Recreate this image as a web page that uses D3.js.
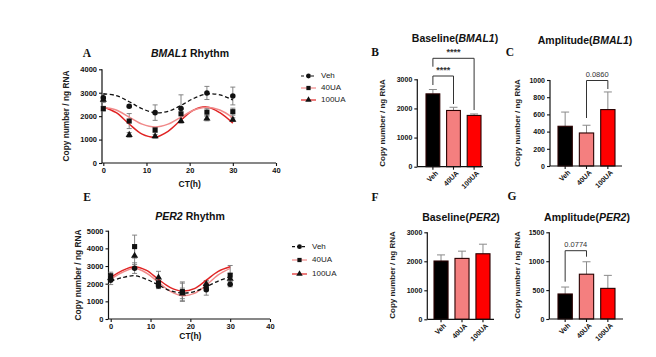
<!DOCTYPE html>
<html><head><meta charset="utf-8">
<script src="https://cdn.jsdelivr.net/npm/d3@7"></script>
<style>
html,body{margin:0;padding:0;background:#fff;}
svg{display:block;font-family:"Liberation Sans",Arial,sans-serif;}
</style></head>
<body>
<svg id="c" width="656" height="357"></svg>
<script>
// ---------- DATA ----------
const groups = ["Veh", "40UA", "100UA"];
const ctHours = [0, 6, 12, 18, 24, 30];
const fitHours = [0, 3, 6, 9, 12, 15, 18, 21, 24, 27, 30];
const xTicks = [0, 10, 20, 30, 40];

// BMAL1 rhythm (panel A)
const bmalVeh = [2780, 2420, 2150, 2330, 2990, 2860];
const bmalVehErr = [150, 60, 330, 580, 280, 380];
const bmal40 = [2320, 1790, 1410, 2100, 2170, 2190];
const bmal40Err = [100, 320, 100, 200, 150, 150];
const bmal100 = [2700, 1200, 1140, 1800, 1900, 1850];
const bmal100Err = [120, 100, 80, 100, 100, 80];
const bmalFitVeh = [2957, 2878, 2616, 2315, 2148, 2206, 2459, 2762, 2946, 2908, 2690];
const bmalFit40 = [2380, 2260, 1960, 1660, 1540, 1660, 1960, 2260, 2380, 2260, 1930];
const bmalFit100 = [2394, 2146, 1665, 1235, 1106, 1354, 1835, 2265, 2394, 2146, 1700];
const bmalYTicks = [0, 1000, 2000, 3000, 4000];

// PER2 rhythm (panel E)
const perVeh = [2200, 2880, 1870, 1530, 1650, 1970];
const perVehErr = [250, 300, 150, 500, 300, 150];
const per40 = [2450, 4100, 2050, 1550, 1850, 2480];
const per40Err = [200, 650, 300, 550, 250, 550];
const per100 = [2330, 3580, 2350, 1450, 1980, 2280];
const per100Err = [150, 500, 350, 300, 200, 300];
const perFitVeh = [2150, 2350, 2450, 2250, 1920, 1600, 1470, 1550, 1830, 2150, 2400];
const perFit40 = [2260, 2650, 2870, 2600, 2080, 1560, 1320, 1450, 1920, 2500, 2870];
const perFit100 = [2340, 2750, 2960, 2750, 2240, 1780, 1580, 1720, 2200, 2700, 2960];
const perYTicks = [0, 1000, 2000, 3000, 4000, 5000];

// Bar panels
const baseBmal = [2500, 1930, 1760];
const baseBmalErr = [150, 110, 50];
const ampBmal = [462, 384, 656];
const ampBmalErr = [165, 90, 205];
const basePer = [2010, 2100, 2260];
const basePerErr = [210, 250, 330];
const ampPer = [433, 775, 530];
const ampPerErr = [120, 215, 225];
const ticks3000 = [0, 1000, 2000, 3000];
const ticks1000 = [0, 200, 400, 600, 800, 1000];
const ticks1500 = [0, 500, 1000, 1500];

// ---------- STYLE ----------
const lineCol = {Veh: "#111", "40UA": "#f08a8a", "100UA": "#e02424"};
const barCol = {Veh: "#000", "40UA": "#f47f7f", "100UA": "#ff0000"};
const markerShape = {Veh: d3.symbolCircle, "40UA": d3.symbolSquare, "100UA": d3.symbolTriangle};
const markerSize = {Veh: 24, "40UA": 26, "100UA": 22};
const fmt = d3.format("d");

const svg = d3.select("#c");

function styleAxis(g, fs) {
  g.selectAll("path.domain").attr("stroke", "#111").attr("stroke-width", 1.2);
  g.selectAll(".tick line").attr("stroke", "#111").attr("stroke-width", 1.1);
  g.selectAll(".tick text").attr("fill", "#111").style("font-size", fs + "px").style("font-weight", "bold")
    .style("font-family", "'Liberation Sans',Arial,sans-serif");
}

function panelLetter(t, x, y) {
  svg.append("text").attr("x", x).attr("y", y).attr("text-anchor", "middle").attr("dominant-baseline", "middle")
    .style("font-family", "'Liberation Serif','Times New Roman',serif").style("font-weight", "bold")
    .style("font-size", "11.5px").attr("fill", "#111").text(t);
}

function title(parts, x, y, fs) {
  const t = svg.append("text").attr("x", x).attr("y", y).attr("text-anchor", "middle").attr("dominant-baseline", "middle")
    .style("font-size", fs + "px").style("font-weight", "bold").attr("fill", "#111");
  parts.forEach(p => t.append("tspan").style("font-style", p[1] ? "italic" : "normal").text(p[0]));
}

function yLabel(x, y, fs) {
  svg.append("text").attr("transform", `translate(${x},${y}) rotate(-90)`).attr("text-anchor", "middle")
    .attr("dominant-baseline", "middle").style("font-size", fs + "px").style("font-weight", "bold")
    .attr("fill", "#222").text("Copy number / ng RNA");
}

function rhythm(cfg) {
  const x = d3.scaleLinear().domain([0, 40]).range(cfg.xr);
  const y = d3.scaleLinear().domain([0, cfg.ymax]).range(cfg.yr);
  const g = svg.append("g");
  const ax = g.append("g").attr("transform", `translate(0,${cfg.yr[0]})`)
    .call(d3.axisBottom(x).tickValues(xTicks).tickFormat(fmt).tickSize(3).tickPadding(2).tickSizeOuter(0));
  styleAxis(ax, 7.5);
  ax.select("path.domain").attr("d", `M${cfg.yAxisX},0H${cfg.xr[1]}`);
  const ay = g.append("g").attr("transform", `translate(${cfg.yAxisX},0)`)
    .call(d3.axisLeft(y).tickValues(cfg.yticks).tickFormat(fmt).tickSize(3).tickPadding(2).tickSizeOuter(0));
  styleAxis(ay, 7.5);
  ay.select("path.domain").attr("d", `M0,${cfg.yr[0]}V${cfg.yr[1]}`);

  const line = d3.line().x(d => x(d[0])).y(d => y(d[1])).curve(d3.curveCatmullRom.alpha(0.5));
  // error bars
  cfg.series.forEach(s => {
    s.vals.forEach((v, i) => {
      const e = s.err[i], cx = x(ctHours[i]);
      if (!e) return;
      g.append("path").attr("d", `M${cx},${y(v + e)}V${y(v - e)}M${cx - 2.5},${y(v + e)}h5M${cx - 2.5},${y(v - e)}h5`)
        .attr("stroke", "#777").attr("stroke-width", 0.9).attr("fill", "none");
    });
  });
  // fit curves
  cfg.series.slice().reverse().forEach(s => {
    g.append("path").datum(fitHours.map((h, i) => [h, s.fit[i]])).attr("d", line)
      .attr("fill", "none").attr("stroke", lineCol[s.name]).attr("stroke-width", s.name === "Veh" ? 1.3 : 1.5)
      .attr("stroke-dasharray", s.name === "Veh" ? "4,2.5" : null);
  });
  // markers
  cfg.series.forEach(s => {
    s.vals.forEach((v, i) => {
      g.append("path").attr("d", d3.symbol().type(markerShape[s.name]).size(markerSize[s.name])())
        .attr("transform", `translate(${x(ctHours[i])},${y(v)})`).attr("fill", "#111");
    });
  });
  // legend
  groups.forEach((n, i) => {
    const ly = cfg.legY[i], lx = cfg.legX;
    g.append("line").attr("x1", lx).attr("x2", lx + 15).attr("y1", ly).attr("y2", ly)
      .attr("stroke", lineCol[n]).attr("stroke-width", 1.2).attr("stroke-dasharray", n === "Veh" ? "3,2" : null);
    g.append("path").attr("d", d3.symbol().type(markerShape[n]).size(18)())
      .attr("transform", `translate(${lx + 7.5},${ly})`).attr("fill", "#111");
    g.append("text").attr("x", lx + 20).attr("y", ly).attr("dominant-baseline", "middle")
      .style("font-size", "8px").attr("fill", "#222").text(n);
  });
  svg.append("text").attr("x", (x(0) + x(40)) / 2).attr("y", cfg.xlabY).attr("text-anchor", "middle")
    .attr("dominant-baseline", "middle").style("font-size", "8.5px").style("font-weight", "bold").attr("fill", "#111").text("CT(h)");
}

function bars(cfg) {
  const x = d3.scaleBand().domain(groups).range(cfg.xr).paddingInner(0.33);
  const y = d3.scaleLinear().domain([0, cfg.ymax]).range(cfg.yr);
  const g = svg.append("g");
  // error bars (upper)
  cfg.vals.forEach((v, i) => {
    const cx = x(groups[i]) + x.bandwidth() / 2;
    g.append("path").attr("d", `M${cx},${y(v)}V${y(v + cfg.err[i])}M${cx - 4},${y(v + cfg.err[i])}h8`)
      .attr("stroke", "#8a8a8a").attr("stroke-width", 1).attr("fill", "none");
  });
  g.selectAll("rect.b").data(cfg.vals).join("rect")
    .attr("x", (d, i) => x(groups[i])).attr("width", x.bandwidth())
    .attr("y", d => y(d)).attr("height", d => y(0) - y(d))
    .attr("fill", (d, i) => barCol[groups[i]]).attr("stroke", "#2a0000").attr("stroke-width", 1.1);
  const ay = g.append("g").attr("transform", `translate(${cfg.yAxisX},0)`)
    .call(d3.axisLeft(y).tickValues(cfg.yticks).tickFormat(fmt).tickSize(3).tickPadding(2).tickSizeOuter(0));
  styleAxis(ay, 7);
  ay.select("path.domain").attr("d", `M0,${cfg.yr[0]}V${cfg.yr[1]}`);
  const ax = g.append("g").attr("transform", `translate(0,${cfg.yr[0]})`)
    .call(d3.axisBottom(x).tickSize(3).tickSizeOuter(0));
  styleAxis(ax, 7);
  ax.select("path.domain").attr("d", `M${cfg.yAxisX},0H${cfg.axisEnd}`);
  ax.selectAll(".tick text").attr("transform", "translate(2,2) rotate(-45)").attr("text-anchor", "end")
    .attr("dy", "0.3em").attr("y", 4).attr("x", -1);
  // brackets
  (cfg.brackets || []).forEach(b => {
    const x1 = x(groups[b.a]) + x.bandwidth() / 2, x2 = x(groups[b.b]) + x.bandwidth() / 2;
    g.append("path").attr("d", `M${x1},${b.ya}V${b.y}H${x2}V${b.yb}`).attr("fill", "none")
      .attr("stroke", "#333").attr("stroke-width", 1);
    g.append("text").attr("x", (x1 + x2) / 2).attr("y", b.y - (b.star ? 3 : 4)).attr("text-anchor", "middle")
      .style("font-size", b.star ? "9px" : "7.5px").style("font-weight", b.star ? "bold" : "normal")
      .attr("fill", "#333").text(b.label);
  });
}

// ---------- PANELS ----------
panelLetter("A", 87, 54);
title([["BMAL1", true], [" Rhythm", false]], 190, 54, 10.5);
yLabel(67, 116, 8.3);
rhythm({xr: [103.3, 276], yr: [163, 69.3], ymax: 4000, yticks: bmalYTicks, yAxisX: 102,
  legX: 301, legY: [76, 88, 100], xlabY: 185,
  series: [
    {name: "Veh", vals: bmalVeh, err: bmalVehErr, fit: bmalFitVeh},
    {name: "40UA", vals: bmal40, err: bmal40Err, fit: bmalFit40},
    {name: "100UA", vals: bmal100, err: bmal100Err, fit: bmalFit100}]});

panelLetter("E", 87, 198);
title([["PER2", true], [" Rhythm", false]], 190, 217, 10.5);
yLabel(78.5, 275, 8.3);
rhythm({xr: [110.7, 270], yr: [319, 230.7], ymax: 5000, yticks: perYTicks, yAxisX: 108.5,
  legX: 292, legY: [246.7, 260, 274], xlabY: 336.5,
  series: [
    {name: "Veh", vals: perVeh, err: perVehErr, fit: perFitVeh},
    {name: "40UA", vals: per40, err: per40Err, fit: perFit40},
    {name: "100UA", vals: per100, err: per100Err, fit: perFit100}]});

panelLetter("B", 375, 53);
title([["Baseline(", false], ["BMAL1", true], [")", false]], 455, 39, 10.5);
yLabel(383, 123, 8);
bars({xr: [426, 481], yr: [166.7, 79.3], ymax: 3000, yticks: ticks3000, yAxisX: 417.3, axisEnd: 483,
  vals: baseBmal, err: baseBmalErr,
  brackets: [{a: 0, b: 1, y: 76, ya: 85, yb: 104, label: "****", star: true},
             {a: 0, b: 2, y: 58.3, ya: 66.7, yb: 110, label: "****", star: true}]});

panelLetter("C", 510, 53);
title([["Amplitude(", false], ["BMAL1", true], [")", false]], 585, 41, 10.5);
yLabel(518, 123, 8);
bars({xr: [558, 615], yr: [166, 80], ymax: 1000, yticks: ticks1000, yAxisX: 550, axisEnd: 622,
  vals: ampBmal, err: ampBmalErr,
  brackets: [{a: 1, b: 2, y: 80.5, ya: 118, yb: 89, label: "0.0860", star: false}]});

panelLetter("F", 375, 198);
title([["Baseline(", false], ["PER2", true], [")", false]], 461, 218, 10.5);
yLabel(393, 275, 8);
bars({xr: [434, 490], yr: [319.3, 232.3], ymax: 3000, yticks: ticks3000, yAxisX: 427.3, axisEnd: 494,
  vals: basePer, err: basePerErr});

panelLetter("G", 512, 197);
title([["Amplitude(", false], ["PER2", true], [")", false]], 587, 218, 10.5);
yLabel(518, 275, 8);
bars({xr: [558, 615], yr: [319, 232.3], ymax: 1500, yticks: ticks1500, yAxisX: 549.3, axisEnd: 623,
  vals: ampPer, err: ampPerErr,
  brackets: [{a: 0, b: 1, y: 250.7, ya: 281.7, yb: 256.7, label: "0.0774", star: false}]});
</script>
</body></html>
